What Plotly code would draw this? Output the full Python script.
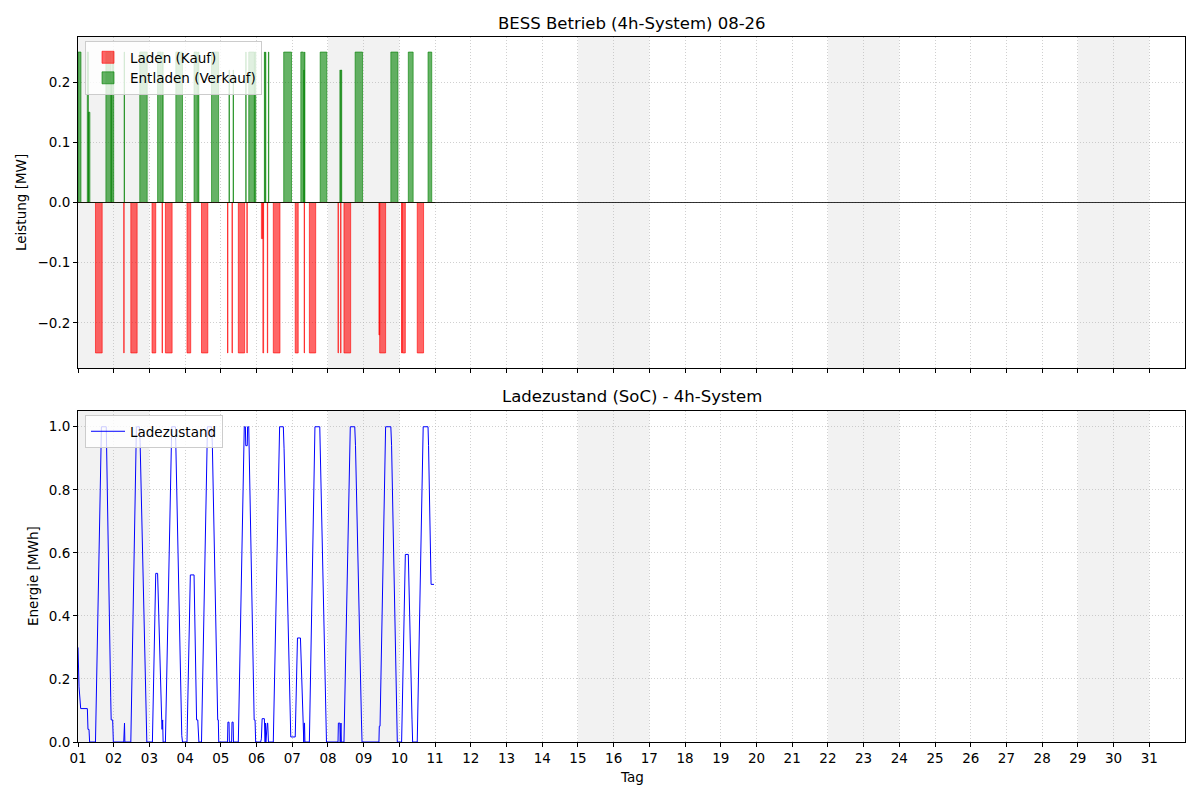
import pandas as pd
import plotly.graph_objects as go

# ---------------- data (hours since 2026-08-01 00:00) ----------------
month_start = "2026-08-01"
month_end = "2026-09-01"

# charging events: start hour, end hour, power [MW]
charge_start = [11.75, 30.75, 35.5, 49.75, 56.5, 58.75, 73.25, 83.0, 100.5, 103.5,
                107.75, 113.5, 123.25, 124.25, 127.25, 131.25, 146.0, 152.0, 155.5,
                174.75, 176.5, 178.75, 202.25, 202.75, 217.5, 218.0, 228.0]
charge_end = [16.25, 31.0, 39.75, 52.25, 56.75, 63.25, 75.75, 87.25, 100.75, 103.75,
              112.0, 113.75, 124.25, 124.75, 127.5, 135.75, 148.0, 152.25, 159.75,
              175.0, 176.75, 183.25, 202.75, 206.75, 217.75, 220.0, 232.25]
charge_mw = [-0.25, -0.25, -0.25, -0.25, -0.25, -0.25, -0.25, -0.25, -0.25, -0.25,
             -0.25, -0.25, -0.06, -0.25, -0.25, -0.25, -0.25, -0.25, -0.25,
             -0.25, -0.25, -0.25, -0.22, -0.25, -0.25, -0.25, -0.25]

# discharging events
discharge_start = [0.0, 6.25, 7.0, 18.75, 22.25, 23.25, 31.0, 41.5, 53.5, 56.75,
                   65.75, 78.0, 80.75, 89.75, 101.5, 104.25, 112.75, 114.75, 118.75,
                   125.25, 126.0, 128.0, 138.25, 149.75, 151.75, 152.25, 162.75,
                   176.0, 176.75, 186.25, 210.25, 222.0, 235.25]
discharge_end = [2.0, 7.0, 8.0, 22.25, 22.5, 24.0, 31.25, 46.5, 56.0, 57.25,
                 70.25, 80.25, 81.25, 94.5, 101.75, 104.5, 113.0, 118.5, 119.5,
                 125.5, 126.25, 128.25, 143.5, 151.5, 152.0, 152.5, 167.25,
                 176.5, 177.25, 191.25, 215.0, 225.25, 237.75]
discharge_mw = [0.25, 0.25, 0.15, 0.25, 0.2, 0.25, 0.25, 0.25, 0.25, 0.25,
                0.25, 0.25, 0.25, 0.25, 0.22, 0.22, 0.25, 0.25, 0.25,
                0.25, 0.25, 0.25, 0.25, 0.25, 0.22, 0.25, 0.25,
                0.22, 0.22, 0.25, 0.25, 0.25, 0.25]

# state of charge vertices
soc_hours = [0, 0.7, 1.8, 6.3, 6.7, 7.4, 7.8, 11.75, 15.75, 19.0, 22.0, 22.3, 23.3, 23.75,
             30.75, 31.0, 31.25, 31.5, 35.5, 39.25, 41.25, 41.75, 46.25,
             50.0, 52.25, 53.5, 55.75, 56.25, 56.5, 56.6, 56.9, 57.2,
             58.75, 63.0, 65.5, 69.75, 70.25,
             73.25, 75.5, 78.0, 79.7, 80.5, 81.25,
             83.0, 87.0, 89.75, 90.3, 93.9, 94.3, 94.6,
             100.5, 100.75, 101.5, 101.75, 103.25, 103.5, 104.25, 104.5,
             107.75, 111.75, 112.5, 112.75, 113.75, 114.0, 114.75, 118.4, 119.0, 119.4,
             122.75, 123.25, 123.75, 125.25, 125.5, 125.75, 126.0, 126.25, 127.25, 127.5, 128.0, 128.25,
             131.25, 135.5, 138.0, 138.5, 143.0, 146.0, 147.5, 149.5, 151.25, 151.5, 151.75,
             152.0, 152.25, 152.5,
             155.5, 159.25, 162.5, 167.0,
             174.75, 175.0, 176.0, 176.25, 176.5, 176.75, 177.0,
             178.75, 183.0, 186.0, 186.5, 190.0, 190.5, 190.9,
             202.25, 202.5, 203.0, 206.75, 210.25, 210.75, 214.0, 214.25, 214.6,
             217.5, 217.75, 218.25, 220.0, 222.0, 223.5, 224.0, 224.5, 224.9,
             228.0, 232.0, 235.25, 235.6, 236.9, 237.3, 239.25]
soc_values = [0.30, 0.175, 0.106, 0.106, 0.04, 0.04, 0.0, 0.0, 1.0, 1.0, 0.14, 0.07, 0.07, 0.0,
              0.0, 0.06, 0.06, 0.0, 0.0, 1.0, 1.0, 0.95, 0.0,
              0.0, 0.535, 0.535, 0.07, 0.07, 0.04, 0.07, 0.07, 0.0,
              0.0, 1.0, 1.0, 0.02, 0.0,
              0.0, 0.53, 0.53, 0.07, 0.07, 0.0,
              0.0, 1.0, 1.0, 0.94, 0.07, 0.07, 0.0,
              0.0, 0.063, 0.063, 0.0, 0.0, 0.063, 0.063, 0.0,
              0.0, 1.0, 1.0, 0.94, 0.94, 1.0, 1.0, 0.07, 0.07, 0.0,
              0.0, 0.01, 0.074, 0.074, 0.03, 0.0, 0.06, 0.0, 0.06, 0.06, 0.0, 0.0,
              0.0, 1.0, 1.0, 0.93, 0.016, 0.016, 0.33, 0.33, 0.07, 0.07, 0.0,
              0.06, 0.06, 0.0,
              0.0, 1.0, 1.0, 0.0,
              0.0, 0.06, 0.06, 0.0, 0.06, 0.06, 0.0,
              0.0, 1.0, 1.0, 0.94, 0.07, 0.07, 0.0,
              0.0, 0.05, 0.05, 1.0, 1.0, 0.94, 0.07, 0.07, 0.0,
              0.0, 0.06, 0.06, 0.595, 0.595, 0.2, 0.07, 0.07, 0.0,
              0.0, 1.0, 1.0, 0.94, 0.57, 0.5, 0.5]

day_ticks = ["2026-08-%02d" % d for d in range(1, 32)]
day_labels = ["01", "02", "03", "04", "05", "06", "07", "08", "09", "10", "11", "12",
              "13", "14", "15", "16", "17", "18", "19", "20", "21", "22", "23", "24",
              "25", "26", "27", "28", "29", "30", "31"]
weekend_days = [1, 2, 8, 9, 15, 16, 22, 23, 29, 30]

# ---------------- helpers ----------------
base = pd.Timestamp(month_start)


def to_time(hours):
    return [base + pd.Timedelta(hours=h) for h in hours]


def step_series(starts, ends, powers):
    xs, ys = [0.0], [0.0]
    for s, e, p in zip(starts, ends, powers):
        xs += [s, e]
        ys += [p, 0.0]
    xs.append(240.0)
    ys.append(0.0)
    return to_time(xs), ys


FONT = "DejaVu Sans, Liberation Sans, sans-serif"
W, H = 1200, 800
OFF = 8  # page body margin


def px(x):
    return (x - OFF) / W


def py(y):
    return 1 - (y - OFF) / H


x0, x1 = px(78), px(1185)
top_dom = [py(368), py(37)]
bot_dom = [py(742), py(411)]
grid_col = "rgba(176,176,176,0.6)"

RED_FILL = "rgba(255,0,0,0.6)"
GREEN_FILL = "rgba(0,128,0,0.6)"

fig = go.Figure()

cx, cy = step_series(charge_start, charge_end, charge_mw)
fig.add_trace(go.Scatter(
    x=cx, y=cy, mode="lines", line=dict(shape="hv", color=RED_FILL, width=1),
    fill="tozeroy", fillcolor=RED_FILL, name="Laden (Kauf)", showlegend=False,
    xaxis="x", yaxis="y"))

dx, dy = step_series(discharge_start, discharge_end, discharge_mw)
fig.add_trace(go.Scatter(
    x=dx, y=dy, mode="lines", line=dict(shape="hv", color=GREEN_FILL, width=1),
    fill="tozeroy", fillcolor=GREEN_FILL, name="Entladen (Verkauf)", showlegend=False,
    xaxis="x", yaxis="y"))

# legend patches (matplotlib-style rectangles)
fig.add_trace(go.Bar(x=[None], y=[None], name="Laden (Kauf)", marker=dict(color=RED_FILL,
              line=dict(color=RED_FILL, width=1)), xaxis="x", yaxis="y", legend="legend"))
fig.add_trace(go.Bar(x=[None], y=[None], name="Entladen (Verkauf)", marker=dict(color=GREEN_FILL,
              line=dict(color=GREEN_FILL, width=1)), xaxis="x", yaxis="y", legend="legend"))

fig.add_trace(go.Scatter(
    x=to_time(soc_hours), y=soc_values, mode="lines",
    line=dict(color="blue", width=1), name="Ladezustand",
    xaxis="x2", yaxis="y2", legend="legend2"))

shapes = []
for d in weekend_days:
    for yr, xr in [("y domain", "x"), ("y2 domain", "x2")]:
        shapes.append(dict(type="rect", xref=xr, yref=yr,
                           x0=base + pd.Timedelta(days=d - 1), x1=base + pd.Timedelta(days=d),
                           y0=0, y1=1, fillcolor="rgba(128,128,128,0.1)",
                           line=dict(width=0), layer="below"))
shapes.append(dict(type="line", xref="x domain", yref="y", x0=0, x1=1, y0=0, y1=0,
                   line=dict(color="black", width=0.8), layer="above"))

axis_common = dict(showline=True, linecolor="black", linewidth=1, mirror=True,
                   ticks="outside", ticklen=4, tickwidth=1, tickcolor="black",
                   showgrid=True, gridcolor=grid_col, griddash="1px,2px", gridwidth=1,
                   zeroline=False, automargin=False,
                   tickfont=dict(family=FONT, size=13.5, color="black"))

xaxis_common = dict(axis_common, type="date", range=[month_start, month_end],
                    tickmode="array", tickvals=day_ticks, ticktext=day_labels)

fig.update_layout(
    width=W, height=H, paper_bgcolor="white", plot_bgcolor="white",
    margin=dict(l=0, r=0, t=0, b=0, autoexpand=False),
    font=dict(family=FONT, size=13.5, color="black"),
    barmode="overlay",
    xaxis=dict(xaxis_common, domain=[x0, x1], anchor="y", showticklabels=False),
    yaxis=dict(axis_common, domain=top_dom, anchor="x", range=[-0.275, 0.275],
               tickmode="array", tickvals=[-0.2, -0.1, 0.0, 0.1, 0.2],
               ticktext=["−0.2", "−0.1", "0.0", "0.1", "0.2"]),
    xaxis2=dict(xaxis_common, domain=[x0, x1], anchor="y2"),
    yaxis2=dict(axis_common, domain=bot_dom, anchor="x2", range=[0, 1.05],
                tickmode="array", tickvals=[0, 0.2, 0.4, 0.6, 0.8, 1.0],
                ticktext=["0.0", "0.2", "0.4", "0.6", "0.8", "1.0"]),
    shapes=shapes,
    legend=dict(x=px(85), y=py(41), xanchor="left", yanchor="top",
                bgcolor="rgba(255,255,255,0.8)", bordercolor="#cccccc", borderwidth=1,
                font=dict(family=FONT, size=13.5), tracegroupgap=0, itemwidth=34),
    legend2=dict(x=px(85), y=py(415), xanchor="left", yanchor="top",
                 bgcolor="rgba(255,255,255,0.8)", bordercolor="#cccccc", borderwidth=1,
                 font=dict(family=FONT, size=13.5), itemwidth=34),
    showlegend=True,
    annotations=[
        dict(text="BESS Betrieb (4h-System) 08-26", x=(x0 + x1) / 2, y=py(23),
             xref="paper", yref="paper", showarrow=False, xanchor="center", yanchor="middle",
             font=dict(family=FONT, size=16.5)),
        dict(text="Ladezustand (SoC) - 4h-System", x=(x0 + x1) / 2, y=py(396),
             xref="paper", yref="paper", showarrow=False, xanchor="center", yanchor="middle",
             font=dict(family=FONT, size=16.5)),
        dict(text="Leistung [MW]", x=px(21), y=py(203), xref="paper", yref="paper",
             showarrow=False, textangle=-90, xanchor="center", yanchor="middle",
             font=dict(family=FONT, size=13.5)),
        dict(text="Energie [MWh]", x=px(33), y=py(576), xref="paper", yref="paper",
             showarrow=False, textangle=-90, xanchor="center", yanchor="middle",
             font=dict(family=FONT, size=13.5)),
        dict(text="Tag", x=(x0 + x1) / 2, y=py(777), xref="paper", yref="paper",
             showarrow=False, xanchor="center", yanchor="middle",
             font=dict(family=FONT, size=13.5)),
    ],
)

fig.write_html("out.html")
